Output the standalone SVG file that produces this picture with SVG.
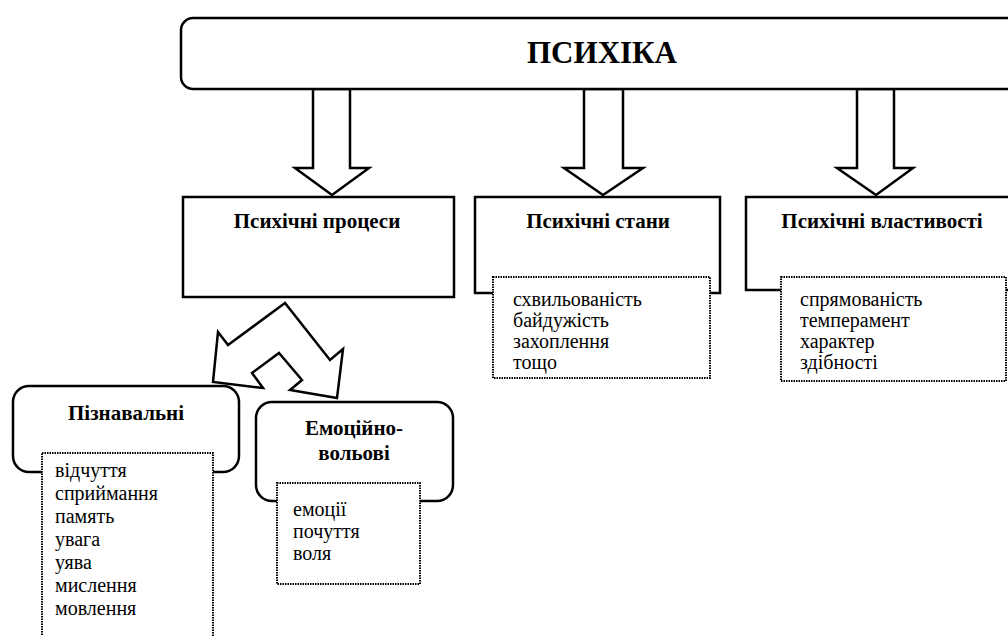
<svg xmlns="http://www.w3.org/2000/svg" width="1008" height="636" viewBox="0 0 1008 636">
<style>
.box{fill:#fff;stroke:#000;stroke-width:2.5}
.arr{fill:#fff;stroke:#000;stroke-width:2.5;stroke-linejoin:miter}
.dot{fill:#fff;stroke:#000;stroke-width:2;stroke-dasharray:1.5 1}
.h{font-family:"Liberation Serif","DejaVu Serif","Times New Roman",serif;font-weight:bold;font-size:21px;fill:#000;text-anchor:middle}
.t{font-family:"Liberation Serif","DejaVu Serif","Times New Roman",serif;font-size:20px;fill:#000}
.title{font-family:"Liberation Serif","DejaVu Serif","Times New Roman",serif;font-weight:bold;font-size:32px;fill:#000;text-anchor:middle}
</style>
<rect width="1008" height="636" fill="#fff"/>
<g id="connectors">
<polygon class="arr" points="313,89 313,168 295,168 332,195 369,168 350,168 350,89"/>
<polygon class="arr" points="584,89 584,168 564,168 603,195 643,168 623,168 623,89"/>
<polygon class="arr" points="857,89 857,168 837,168 876,195 913,168 894,168 894,89"/>
<polygon class="arr" points="285,303 228,345 218,332 213,382 263,388 252,373 279,353 302,380 290,390 337,398 343,349 330,360"/>
</g>
<g id="psyche">
<rect class="box" x="181" y="18" width="850" height="71" rx="12"/>
<text class="title" x="602" y="63" textLength="150" lengthAdjust="spacingAndGlyphs">ПСИХІКА</text>
</g>
<g id="processes">
<rect class="box" x="183" y="197" width="271" height="100"/>
<text class="h" x="317" y="228">Психічні процеси</text>
</g>
<g id="states">
<rect class="box" x="475" y="197" width="245" height="96"/>
<text class="h" x="598" y="228">Психічні стани</text>
<rect class="dot" x="493" y="277" width="217" height="101"/>
<text class="t" x="513" y="306">схвильованість</text>
<text class="t" x="513" y="327">байдужість</text>
<text class="t" x="513" y="348">захоплення</text>
<text class="t" x="513" y="369">тощо</text>
</g>
<g id="properties">
<rect class="box" x="746" y="197" width="280" height="93"/>
<text class="h" x="882" y="228">Психічні властивості</text>
<rect class="dot" x="781" y="277" width="225" height="104"/>
<text class="t" x="800" y="306">спрямованість</text>
<text class="t" x="800" y="327">темперамент</text>
<text class="t" x="800" y="348">характер</text>
<text class="t" x="800" y="369">здібності</text>
</g>
<g id="cognitive">
<rect class="box" x="13" y="386" width="226" height="86" rx="16"/>
<text class="h" x="126" y="420">Пізнавальні</text>
<rect class="dot" x="42" y="453" width="171" height="200"/>
<text class="t" x="55" y="477">відчуття</text>
<text class="t" x="55" y="500">сприймання</text>
<text class="t" x="55" y="523">память</text>
<text class="t" x="55" y="546">увага</text>
<text class="t" x="55" y="569">уява</text>
<text class="t" x="55" y="592">мислення</text>
<text class="t" x="55" y="615">мовлення</text>
</g>
<g id="emotional">
<rect class="box" x="256" y="402" width="197" height="99" rx="16"/>
<text class="h" x="354" y="435">Емоційно-</text>
<text class="h" x="354" y="460">вольові</text>
<rect class="dot" x="277" y="483" width="143" height="101"/>
<text class="t" x="293" y="516">емоції</text>
<text class="t" x="293" y="538">почуття</text>
<text class="t" x="293" y="560">воля</text>
</g>
</svg>
